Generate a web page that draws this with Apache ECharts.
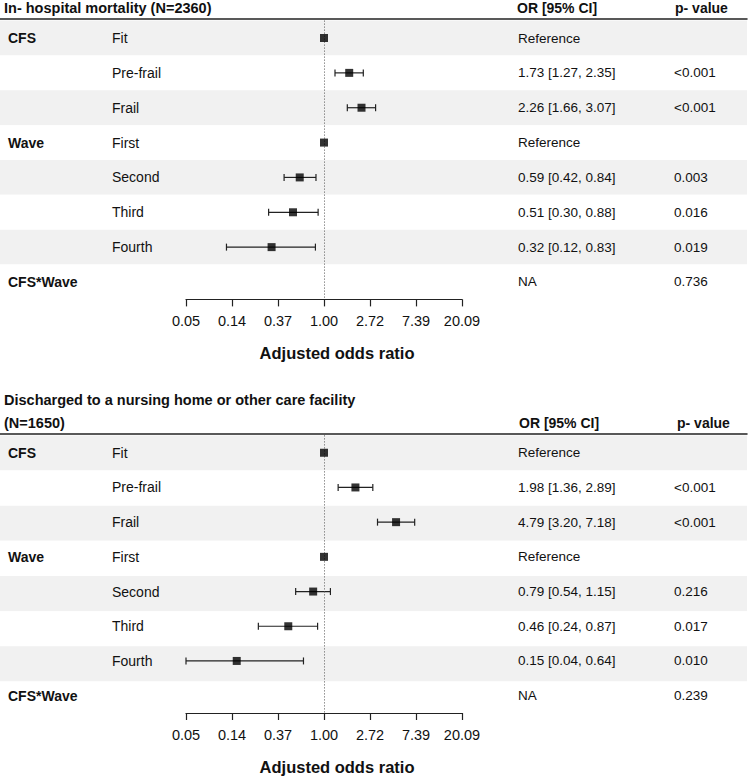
<!DOCTYPE html>
<html>
<head>
<meta charset="utf-8">
<script src="https://cdn.jsdelivr.net/npm/echarts@6/dist/echarts.min.js"></script>
<style>html,body{margin:0;padding:0;background:#fff}#c{width:750px;height:776px}</style>
</head>
<body>
<div id="c"></div>
<script>
// ---- data ----
const rowGroups = ['CFS', '', '', 'Wave', '', '', '', 'CFS*Wave'];
const rowLabels = ['Fit', 'Pre-frail', 'Frail', 'First', 'Second', 'Third', 'Fourth', ''];
const tickLabels = ['0.05', '0.14', '0.37', '1.00', '2.72', '7.39', '20.09'];

const title1 = 'In- hospital mortality (N=2360)';
const or1 = [1, 1.73, 2.26, 1, 0.59, 0.51, 0.32, null];
const lo1 = [null, 1.27, 1.66, null, 0.42, 0.30, 0.12, null];
const hi1 = [null, 2.35, 3.07, null, 0.84, 0.88, 0.83, null];
const orText1 = ['Reference', '1.73 [1.27, 2.35]', '2.26 [1.66, 3.07]', 'Reference', '0.59 [0.42, 0.84]', '0.51 [0.30, 0.88]', '0.32 [0.12, 0.83]', 'NA'];
const p1 = ['', '<0.001', '<0.001', '', '0.003', '0.016', '0.019', '0.736'];

const title2 = 'Discharged to a nursing home or other care facility\n(N=1650)';
const or2 = [1, 1.98, 4.79, 1, 0.79, 0.46, 0.15, null];
const lo2 = [null, 1.36, 3.20, null, 0.54, 0.24, 0.04, null];
const hi2 = [null, 2.89, 7.18, null, 1.15, 0.87, 0.64, null];
const orText2 = ['Reference', '1.98 [1.36, 2.89]', '4.79 [3.20, 7.18]', 'Reference', '0.79 [0.54, 1.15]', '0.46 [0.24, 0.87]', '0.15 [0.04, 0.64]', 'NA'];
const p2 = ['', '<0.001', '<0.001', '', '0.216', '0.017', '0.010', '0.239'];

const headerOR = 'OR [95% CI]';
const headerP = 'p- value';
const axisTitle = 'Adjusted odds ratio';

// ---- styling / layout ----
const FONT = '"Liberation Sans", Arial, Helvetica, sans-serif';
const FS = 13.5;
const PLOT_LEFT = 186, PLOT_RIGHT = 750 - 462;

const grids = [], xAxes = [], yAxes = [], series = [];

function panel(p, top, height, orv, lov, hiv, orTxt, pTxt) {
  const gBg = grids.length;
  grids.push({left: 0, right: 3, top: top, height: height});
  const gPl = grids.length;
  grids.push({left: PLOT_LEFT, right: PLOT_RIGHT, top: top, height: height});

  // background grid axes (band + header rule)
  const xBg = xAxes.length;
  xAxes.push({gridIndex: gBg, type: 'value', min: 0, max: 1, position: 'top', offset: 2,
    axisLine: {show: true, lineStyle: {color: '#222', width: 1.5}},
    axisTick: {show: false}, axisLabel: {show: false}, splitLine: {show: false}});
  const yBg = yAxes.length;
  yAxes.push({gridIndex: gBg, type: 'category', inverse: true, data: rowLabels,
    axisLine: {show: false}, axisTick: {show: false}, axisLabel: {show: false},
    splitLine: {show: false},
    splitArea: {show: true, areaStyle: {color: ['#f1f1f1', '#ffffff']}}});

  // plot x axis (log odds)
  const xPl = xAxes.length;
  xAxes.push({gridIndex: gPl, type: 'value', min: -3, max: 3, interval: 1,
    axisLine: {show: true, onZero: false, lineStyle: {color: '#222', width: 1.2}},
    axisTick: {show: true, length: 7, lineStyle: {color: '#222', width: 1.2}},
    axisLabel: {margin: 14, color: '#111', fontFamily: FONT, fontSize: 14.5,
      formatter: (v, i) => tickLabels[i]},
    splitLine: {show: false},
    name: axisTitle, nameLocation: 'middle', nameGap: 45,
    nameTextStyle: {fontFamily: FONT, fontSize: 16.5, fontWeight: 'bold', color: '#111',
      padding: [0, 0, 0, 26]}});

  const common = {gridIndex: gPl, type: 'category', inverse: true, data: rowLabels,
    axisLine: {show: false}, axisTick: {show: false}, splitLine: {show: false}};
  const yMain = yAxes.length;
  yAxes.push(Object.assign({}, common, {position: 'left',
    axisLabel: {interval: 0, align: 'left', margin: PLOT_LEFT - 112, color: '#111', fontFamily: FONT, fontSize: 14}}));
  yAxes.push(Object.assign({}, common, {position: 'left',
    axisLabel: {interval: 0, align: 'left', margin: PLOT_LEFT - 8, color: '#111', fontFamily: FONT, fontSize: 14, fontWeight: 'bold',
      formatter: (v, i) => rowGroups[i]}}));
  yAxes.push(Object.assign({}, common, {position: 'right',
    axisLabel: {interval: 0, align: 'left', margin: 518 - 462, color: '#111', fontFamily: FONT, fontSize: FS,
      formatter: (v, i) => orTxt[i]}}));
  yAxes.push(Object.assign({}, common, {position: 'right',
    axisLabel: {interval: 0, align: 'left', margin: 674 - 462, color: '#111', fontFamily: FONT, fontSize: FS,
      formatter: (v, i) => pTxt[i]}}));

  // dummy series to show bg grid
  series.push({type: 'line', xAxisIndex: xBg, yAxisIndex: yBg, data: [], silent: true});

  const ciData = [];
  const ptData = [];
  orv.forEach((v, i) => {
    if (v != null) ptData.push([Math.log(v), i]);
    if (lov[i] != null) ciData.push([Math.log(lov[i]), Math.log(hiv[i]), i]);
  });

  series.push({
    type: 'custom', xAxisIndex: xPl, yAxisIndex: yMain, silent: true,
    encode: {x: [0, 1], y: 2},
    data: ciData,
    renderItem: (params, api) => {
      const a = api.coord([api.value(0), api.value(2)]);
      const b = api.coord([api.value(1), api.value(2)]);
      const cs = params.coordSys;
      const x1 = Math.max(a[0], cs.x), x2 = Math.min(b[0], cs.x + cs.width);
      const y = a[1], h = 3.5;
      const st = {stroke: '#222', lineWidth: 1.2};
      return {type: 'group', children: [
        {type: 'line', shape: {x1: x1, y1: y, x2: x2, y2: y}, style: st},
        {type: 'line', shape: {x1: x1, y1: y - h, x2: x1, y2: y + h}, style: st},
        {type: 'line', shape: {x1: x2, y1: y - h, x2: x2, y2: y + h}, style: st}
      ]};
    }
  });
  series.push({
    type: 'scatter', xAxisIndex: xPl, yAxisIndex: yMain, silent: true,
    symbol: 'rect', symbolSize: 8, itemStyle: {color: '#000'}, z: 5,
    data: ptData,
    markLine: {silent: true, symbol: 'none', label: {show: false},
      lineStyle: {type: [1, 2], color: '#555', width: 1},
      data: [{xAxis: 0}]}
  });
}

panel(0, 20.6, 278.8, or1, lo1, hi1, orText1, p1);
panel(1, 435.4, 281.2, or2, lo2, hi2, orText2, p2);

const ts = {fontFamily: FONT, fontWeight: 'bold', color: '#111'};
const titles = [
  {text: title1, left: 4, top: 0, padding: 0, textStyle: Object.assign({fontSize: 14.5, lineHeight: 15}, ts)},
  {text: headerOR, left: 517, top: 0, padding: 0, textStyle: Object.assign({fontSize: 14, lineHeight: 15}, ts)},
  {text: headerP, left: 675, top: 0, padding: 0, textStyle: Object.assign({fontSize: 14, lineHeight: 15}, ts)},
  {text: title2, left: 4, top: 388, padding: 0, textStyle: Object.assign({fontSize: 14.5, lineHeight: 23}, ts)},
  {text: headerOR, left: 519, top: 415, padding: 0, textStyle: Object.assign({fontSize: 14, lineHeight: 15}, ts)},
  {text: headerP, left: 677, top: 415, padding: 0, textStyle: Object.assign({fontSize: 14, lineHeight: 15}, ts)}
];

const chart = echarts.init(document.getElementById('c'), null, {renderer: 'svg'});
chart.setOption({
  animation: false,
  backgroundColor: '#fff',
  textStyle: {fontFamily: FONT},
  title: titles,
  grid: grids,
  xAxis: xAxes,
  yAxis: yAxes,
  series: series
});
</script>
</body>
</html>
